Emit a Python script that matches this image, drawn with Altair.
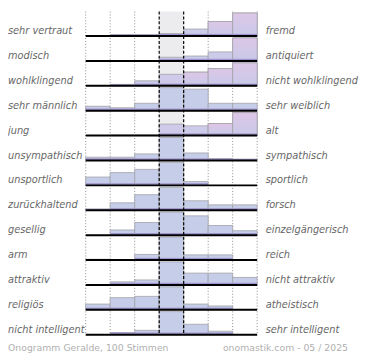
import altair as alt
import pandas as pd

left_labels = ["sehr vertraut", "modisch", "wohlklingend", "sehr männlich", "jung",
               "unsympathisch", "unsportlich", "zurückhaltend", "gesellig", "arm",
               "attraktiv", "religiös", "nicht intelligent"]
right_labels = ["fremd", "antiquiert", "nicht wohlklingend", "sehr weiblich", "alt",
                "sympathisch", "sportlich", "forsch", "einzelgängerisch", "reich",
                "nicht attraktiv", "atheistisch", "sehr intelligent"]
votes = [
    [0, 3, 3, 5, 14, 29, 46],
    [0, 1, 0, 9, 12, 22, 56],
    [0, 2, 7, 16, 19, 24, 32],
    [6, 4, 10, 31, 29, 10, 10],
    [0, 1, 1, 20, 17, 21, 40],
    [7, 7, 14, 49, 16, 4, 3],
    [13, 20, 25, 36, 6, 0, 0],
    [2, 11, 23, 34, 14, 8, 8],
    [0, 7, 17, 31, 26, 13, 6],
    [2, 0, 14, 58, 13, 13, 0],
    [0, 5, 8, 37, 19, 19, 12],
    [9, 19, 21, 36, 9, 6, 0],
    [0, 5, 10, 53, 24, 8, 0],
]
bins = list(range(7))
edges = list(range(8))
footer_left = "Onogramm Geralde, 100 Stimmen"
footer_right = "onomastik.com - 05 / 2025"

# layout constants
W, H = 175, 330
TOP, ROW, MAXH = 25, 25.4, 23.5

bars_df = pd.DataFrame([{"r": r, "c": c, "v": votes[r][c]} for r in range(len(votes)) for c in bins])
rows_df = pd.DataFrame({"r": list(range(len(left_labels))), "left": left_labels, "right": right_labels})
edges_df = pd.DataFrame({"e": edges})

xs = alt.Scale(domain=[0, 7], nice=False, zero=False)
ys = alt.Scale(domain=[0, H], reverse=True, nice=False, zero=False)

bars_base = (
    alt.Chart(bars_df)
    .transform_calculate(wv="datum.v * datum.c")
    .transform_joinaggregate(mx="max(v)", tot="sum(v)", sw="sum(wv)", groupby=["r"])
    .transform_calculate(
        h=f"datum.v / datum.mx * {MAXH}",
        base=f"{TOP} + datum.r * {ROW}",
        pink="datum.sw / datum.tot > 4",
        c2="datum.c + 1",
    )
    .transform_calculate(
        top="datum.base - datum.h",
        sb="datum.base - min(datum.h, 2.2)",
        shade=f"datum.pink ? datum.h / {MAXH} : 0",
    )
    .transform_filter("datum.v > 0")
)

bars = bars_base.mark_rect(stroke="#a2a2a8", strokeWidth=0.8).encode(
    x=alt.X("c:Q", scale=xs, axis=None),
    x2="c2:Q",
    y=alt.Y("top:Q", scale=ys, axis=None),
    y2="base:Q",
    color=alt.Color("shade:Q", scale=alt.Scale(domain=[0, 1], range=["#c5cde9", "#dcc7e7"]), legend=None),
)

grad = alt.Gradient(
    gradient="linear",
    stops=[alt.GradientStop(color="#ddc6e6", offset=0), alt.GradientStop(color="#c8cae9", offset=1)],
    x1=0, x2=0, y1=0, y2=1,
)
tall_pink = bars_base.transform_filter(f"datum.pink && datum.h > {MAXH * 0.5}").mark_rect(
    color=grad, stroke="#a2a2a8", strokeWidth=0.8
).encode(
    x=alt.X("c:Q", scale=xs, axis=None),
    x2="c2:Q",
    y=alt.Y("top:Q", scale=ys, axis=None),
    y2="base:Q",
)

strip = bars_base.mark_rect(color="#a094cb").encode(
    x=alt.X("c:Q", scale=xs, axis=None),
    x2="c2:Q",
    y=alt.Y("sb:Q", scale=ys, axis=None),
    y2="base:Q",
)

center_bg = alt.Chart(edges_df).transform_filter("datum.e == 3").transform_calculate(e2="datum.e + 1").mark_rect(
    color="#ececee"
).encode(
    x=alt.X("e:Q", scale=xs, axis=None), x2="e2:Q", y=alt.value(0), y2=alt.value(H)
)

dotted = alt.Chart(edges_df).transform_filter("datum.e != 3 && datum.e != 4").mark_rule(
    color="#8a8a8a", strokeDash=[1, 2], strokeWidth=1
).encode(x=alt.X("e:Q", scale=xs, axis=None), y=alt.value(0), y2=alt.value(H))

dashed = alt.Chart(edges_df).transform_filter("datum.e == 3 || datum.e == 4").mark_rule(
    color="#000000", strokeDash=[3, 2], strokeWidth=1.2
).encode(x=alt.X("e:Q", scale=xs, axis=None), y=alt.value(0), y2=alt.value(H))

rows_base = alt.Chart(rows_df).transform_calculate(
    base=f"{TOP} + datum.r * {ROW}", ly="datum.base - 5"
)

baselines = rows_base.mark_rule(color="#000000", strokeWidth=2).encode(
    x=alt.value(0), x2=alt.value(W), y=alt.Y("base:Q", scale=ys, axis=None)
)

label_style = dict(baseline="middle", font="DejaVu Sans", fontSize=10, fontStyle="italic", color="#666666")
left_text = rows_base.mark_text(align="left", **label_style).encode(
    x=alt.value(-79.3), y=alt.Y("ly:Q", scale=ys, axis=None), text="left:N"
)
right_text = rows_base.mark_text(align="left", **label_style).encode(
    x=alt.value(W + 8.7), y=alt.Y("ly:Q", scale=ys, axis=None), text="right:N"
)

foot_style = dict(baseline="middle", font="DejaVu Sans", fontSize=9.5, color="#b0b0b0")
foot_l = alt.Chart(pd.DataFrame({"t": [footer_left]})).mark_text(align="left", **foot_style).encode(
    x=alt.value(-79.3), y=alt.value(H + 13), text="t:N"
)
foot_r = alt.Chart(pd.DataFrame({"t": [footer_right]})).mark_text(align="right", **foot_style).encode(
    x=alt.value(267.7), y=alt.value(H + 13), text="t:N"
)

chart = (
    alt.layer(center_bg, dotted, bars, tall_pink, strip, baselines, dashed,
              left_text, right_text, foot_l, foot_r)
    .properties(
        width=W, height=H,
        padding={"left": 79.3, "top": 0, "right": 107, "bottom": 22},
        autosize=alt.AutoSizeParams(type="none"),
    )
    .configure_view(stroke=None)
)

chart.save("out.html", embed_options={"renderer": "svg", "actions": False})
